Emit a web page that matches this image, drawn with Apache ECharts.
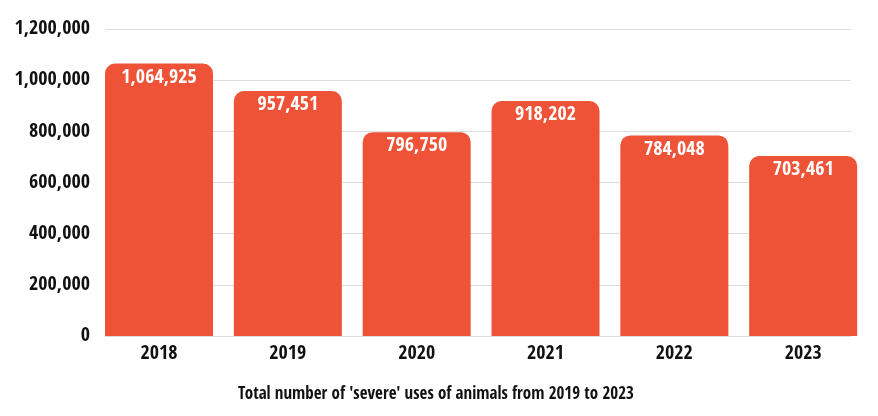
<!DOCTYPE html>
<html>
<head>
<meta charset="utf-8">
<script src="https://cdn.jsdelivr.net/npm/echarts@6/dist/echarts.min.js"></script>
<style>html,body{margin:0;padding:0;background:#fff}#c{width:878px;height:416px}</style>
</head>
<body>
<div id="c"></div>
<script>
const years = ['2018', '2019', '2020', '2021', '2022', '2023'];
const severeUses = [1064925, 957451, 796750, 918202, 784048, 703461];
const yTicks = [0, 200000, 400000, 600000, 800000, 1000000, 1200000];
const caption = "Total number of 'severe' uses of animals from 2019 to 2023";

const FONT = '"Open Sans Condensed", "Roboto Condensed", sans-serif';
const fmt = v => v.toLocaleString('en-US');

const chart = echarts.init(document.getElementById('c'), null, {renderer: 'canvas'});
chart.setOption({
  backgroundColor: '#ffffff',
  animation: false,
  title: {
    text: caption,
    left: 233, top: 381,
    textStyle: {fontFamily: FONT, fontSize: 17, fontWeight: 'bold', color: '#111111'}
  },
  grid: [
    {left: 94.6, top: 29, width: 773, bottom: 80},
    {left: 105, top: 29, width: 746, bottom: 80}
  ],
  xAxis: [
    {
      type: 'category', gridIndex: 0, data: years,
      axisLine: {show: false}, axisTick: {show: false},
      axisLabel: {margin: 8, fontFamily: FONT, fontSize: 20, fontWeight: 'bold', color: '#111111'}
    },
    {
      type: 'category', gridIndex: 1, data: years, show: true,
      axisLine: {show: true, lineStyle: {color: '#dddddd', width: 1}},
      axisTick: {show: false}, axisLabel: {show: false}
    }
  ],
  yAxis: [
    {
      type: 'value', gridIndex: 0, min: yTicks[0], max: yTicks[yTicks.length - 1], interval: 200000,
      show: false, splitLine: {show: false}
    },
    {
      type: 'value', gridIndex: 1, min: yTicks[0], max: yTicks[yTicks.length - 1], interval: 200000,
      axisLine: {show: false}, axisTick: {show: false},
      axisLabel: {margin: 15, fontFamily: FONT, fontSize: 20, fontWeight: 'bold', color: '#111111', formatter: v => fmt(v)},
      splitLine: {show: true, lineStyle: {color: '#dddddd', width: 1}}
    }
  ],
  series: [{
    type: 'bar',
    xAxisIndex: 0, yAxisIndex: 0,
    data: severeUses,
    barWidth: 108,
    itemStyle: {color: '#ee5338', borderRadius: [10, 10, 0, 0]},
    label: {
      show: true, position: 'insideTop', distance: 4,
      fontFamily: FONT, fontSize: 20, fontWeight: 'bold', color: '#ffffff',
      formatter: p => fmt(p.value)
    },
    z: 3
  }]
});
</script>
</body>
</html>
